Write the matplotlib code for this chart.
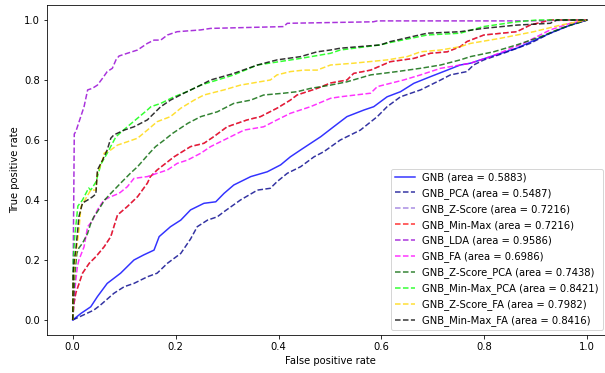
import numpy as np
import matplotlib
matplotlib.use("Agg")
import matplotlib.pyplot as plt

# ROC points (fpr, tpr)
gnb_fpr = [0, 0.016, 0.035, 0.048, 0.067, 0.093, 0.119, 0.138, 0.158, 0.168, 0.190, 0.210, 0.229, 0.255, 0.278, 0.294, 0.313, 0.346, 0.378, 0.404, 0.423, 0.443, 0.482, 0.507, 0.533, 0.566, 0.585, 0.611, 0.637, 0.663, 0.695, 0.728, 0.753, 0.773, 0.812, 0.863, 0.928, 0.967, 1.0]
gnb_tpr = [0, 0.022, 0.044, 0.078, 0.122, 0.156, 0.200, 0.217, 0.233, 0.278, 0.311, 0.333, 0.367, 0.389, 0.394, 0.422, 0.450, 0.478, 0.494, 0.517, 0.544, 0.567, 0.611, 0.644, 0.678, 0.700, 0.711, 0.744, 0.761, 0.789, 0.811, 0.833, 0.850, 0.856, 0.878, 0.906, 0.956, 0.983, 1.0]

pca_fpr = [0, 0.041, 0.054, 0.080, 0.100, 0.119, 0.145, 0.164, 0.184, 0.210, 0.229, 0.242, 0.262, 0.281, 0.294, 0.326, 0.359, 0.384, 0.397, 0.417, 0.443, 0.469, 0.488, 0.520, 0.559, 0.592, 0.611, 0.637, 0.676, 0.715, 0.734, 0.766, 0.779, 0.799, 0.837, 0.889, 0.928, 0.967, 1.0]
pca_tpr = [0, 0.033, 0.050, 0.089, 0.111, 0.122, 0.144, 0.156, 0.189, 0.222, 0.270, 0.311, 0.333, 0.344, 0.361, 0.400, 0.433, 0.439, 0.461, 0.489, 0.511, 0.544, 0.561, 0.600, 0.633, 0.678, 0.711, 0.744, 0.767, 0.800, 0.817, 0.828, 0.850, 0.867, 0.889, 0.922, 0.956, 0.983, 1.0]

mm_fpr = [0, 0.002, 0.006, 0.012, 0.019, 0.032, 0.045, 0.061, 0.074, 0.087, 0.106, 0.126, 0.145, 0.151, 0.164, 0.197, 0.229, 0.255, 0.274, 0.300, 0.339, 0.365, 0.397, 0.423, 0.436, 0.475, 0.501, 0.533, 0.546, 0.579, 0.617, 0.663, 0.695, 0.728, 0.753, 0.766, 0.799, 0.863, 0.889, 0.928, 1.0]
mm_tpr = [0, 0.05, 0.090, 0.120, 0.156, 0.189, 0.211, 0.244, 0.278, 0.350, 0.378, 0.411, 0.456, 0.478, 0.500, 0.544, 0.578, 0.589, 0.611, 0.644, 0.667, 0.678, 0.706, 0.733, 0.750, 0.772, 0.790, 0.800, 0.822, 0.833, 0.861, 0.872, 0.889, 0.894, 0.911, 0.928, 0.950, 0.961, 0.983, 1.0, 1.0]

# Z-Score curve sits exactly under the Min-Max one
zs_fpr = mm_fpr
zs_tpr = mm_tpr

lda_fpr = [0, 0.003, 0.006, 0.022, 0.029, 0.038, 0.048, 0.058, 0.067, 0.077, 0.084, 0.090, 0.106, 0.126, 0.145, 0.158, 0.171, 0.184, 0.203, 0.249, 0.268, 0.410, 0.417, 0.584, 0.592, 0.880, 1.0]
lda_tpr = [0, 0.620, 0.628, 0.711, 0.767, 0.772, 0.783, 0.806, 0.828, 0.839, 0.867, 0.880, 0.889, 0.900, 0.922, 0.933, 0.933, 0.950, 0.961, 0.967, 0.972, 0.978, 0.989, 0.994, 0.997, 0.997, 1.0]

fa_fpr = [0, 0.003, 0.006, 0.009, 0.012, 0.022, 0.029, 0.038, 0.048, 0.054, 0.061, 0.074, 0.090, 0.106, 0.119, 0.145, 0.164, 0.184, 0.203, 0.223, 0.249, 0.268, 0.307, 0.333, 0.371, 0.397, 0.423, 0.462, 0.501, 0.520, 0.579, 0.592, 0.643, 0.676, 0.715, 0.753, 0.773, 0.812, 0.876, 0.928, 0.967, 1.0]
fa_tpr = [0, 0.08, 0.133, 0.178, 0.200, 0.244, 0.311, 0.330, 0.367, 0.383, 0.400, 0.411, 0.422, 0.444, 0.472, 0.478, 0.489, 0.500, 0.522, 0.533, 0.556, 0.578, 0.611, 0.633, 0.644, 0.667, 0.689, 0.711, 0.739, 0.744, 0.756, 0.778, 0.800, 0.817, 0.839, 0.850, 0.856, 0.878, 0.922, 0.967, 0.989, 1.0]

zspca_fpr = [0, 0.004, 0.008, 0.012, 0.019, 0.029, 0.035, 0.041, 0.048, 0.062, 0.074, 0.093, 0.112, 0.126, 0.149, 0.161, 0.178, 0.194, 0.224, 0.249, 0.281, 0.313, 0.346, 0.371, 0.410, 0.436, 0.462, 0.501, 0.533, 0.579, 0.630, 0.676, 0.715, 0.753, 0.773, 0.818, 0.863, 0.909, 0.948, 1.0]
zspca_tpr = [0, 0.150, 0.222, 0.240, 0.256, 0.289, 0.322, 0.344, 0.361, 0.400, 0.422, 0.456, 0.489, 0.511, 0.556, 0.578, 0.600, 0.622, 0.656, 0.678, 0.694, 0.722, 0.733, 0.750, 0.756, 0.761, 0.772, 0.783, 0.794, 0.817, 0.828, 0.839, 0.850, 0.867, 0.878, 0.894, 0.917, 0.944, 0.972, 1.0]

mmpca_fpr = [0, 0.001, 0.004, 0.010, 0.019, 0.031, 0.035, 0.045, 0.055, 0.067, 0.084, 0.106, 0.145, 0.152, 0.171, 0.197, 0.222, 0.249, 0.313, 0.359, 0.443, 0.501, 0.520, 0.598, 0.617, 0.689, 0.753, 0.798, 0.863, 0.902, 1.0]
mmpca_tpr = [0, 0.200, 0.280, 0.380, 0.400, 0.440, 0.433, 0.460, 0.520, 0.556, 0.611, 0.644, 0.700, 0.711, 0.722, 0.744, 0.761, 0.783, 0.817, 0.850, 0.872, 0.889, 0.900, 0.917, 0.925, 0.950, 0.956, 0.978, 0.994, 1.0, 1.0]

zsfa_fpr = [0, 0.001, 0.003, 0.012, 0.016, 0.035, 0.045, 0.048, 0.058, 0.061, 0.074, 0.087, 0.106, 0.126, 0.145, 0.164, 0.190, 0.210, 0.236, 0.255, 0.294, 0.326, 0.384, 0.397, 0.423, 0.449, 0.475, 0.501, 0.546, 0.611, 0.650, 0.676, 0.715, 0.753, 0.773, 0.831, 0.896, 0.948, 1.0]
zsfa_tpr = [0, 0.120, 0.178, 0.300, 0.378, 0.433, 0.433, 0.490, 0.533, 0.556, 0.567, 0.583, 0.594, 0.606, 0.633, 0.661, 0.678, 0.706, 0.733, 0.750, 0.767, 0.783, 0.800, 0.817, 0.828, 0.833, 0.833, 0.850, 0.856, 0.867, 0.878, 0.894, 0.900, 0.911, 0.922, 0.939, 0.961, 0.983, 1.0]

mmfa_fpr = [0, 0.001, 0.003, 0.006, 0.012, 0.019, 0.029, 0.038, 0.045, 0.048, 0.058, 0.067, 0.074, 0.080, 0.100, 0.119, 0.145, 0.171, 0.190, 0.216, 0.249, 0.268, 0.313, 0.359, 0.397, 0.443, 0.475, 0.501, 0.520, 0.598, 0.617, 0.689, 0.753, 0.798, 0.863, 0.928, 0.941, 1.0]
mmfa_tpr = [0, 0.150, 0.200, 0.233, 0.344, 0.390, 0.400, 0.410, 0.420, 0.500, 0.533, 0.567, 0.606, 0.617, 0.633, 0.644, 0.667, 0.711, 0.733, 0.756, 0.783, 0.800, 0.822, 0.850, 0.867, 0.878, 0.894, 0.900, 0.906, 0.917, 0.928, 0.956, 0.961, 0.972, 0.983, 0.989, 1.0, 1.0]

names = ['GNB', 'GNB_PCA', 'GNB_Z-Score', 'GNB_Min-Max', 'GNB_LDA', 'GNB_FA',
         'GNB_Z-Score_PCA', 'GNB_Min-Max_PCA', 'GNB_Z-Score_FA', 'GNB_Min-Max_FA']
areas = [0.5883, 0.5487, 0.7216, 0.7216, 0.9586, 0.6986, 0.7438, 0.8421, 0.7982, 0.8416]
curves = [(gnb_fpr, gnb_tpr), (pca_fpr, pca_tpr), (zs_fpr, zs_tpr), (mm_fpr, mm_tpr),
          (lda_fpr, lda_tpr), (fa_fpr, fa_tpr), (zspca_fpr, zspca_tpr),
          (mmpca_fpr, mmpca_tpr), (zsfa_fpr, zsfa_tpr), (mmfa_fpr, mmfa_tpr)]
colors = ['blue', 'darkblue', 'mediumpurple', 'red', 'darkviolet', 'magenta',
          'darkgreen', 'lime', 'gold', 'black']
styles = ['-'] + ['--'] * 9

fig = plt.figure(figsize=(605 / 72, 373 / 72), dpi=72)
ax = fig.add_axes([47 / 605, 38 / 373, 566 / 605, 330 / 373])
for (f, t), name, a, c, ls in zip(curves, names, areas, colors, styles):
    ax.plot(f, t, color=c, linestyle=ls, lw=1.5, alpha=0.8,
            label='%s (area = %.4f)' % (name, a))
ax.set_xlim(-0.05, 1.05)
ax.set_ylim(-0.05, 1.05)
ax.set_xticks(np.arange(0, 1.01, 0.2))
ax.set_yticks(np.arange(0, 1.01, 0.2))
ax.set_xlabel('False positive rate')
ax.set_ylabel('True positive rate')
ax.legend(loc='lower right', bbox_to_anchor=((603 - 47) / 566, 5 / 330),
          borderaxespad=0, fontsize=10)
fig.savefig('out.png', dpi=72)
